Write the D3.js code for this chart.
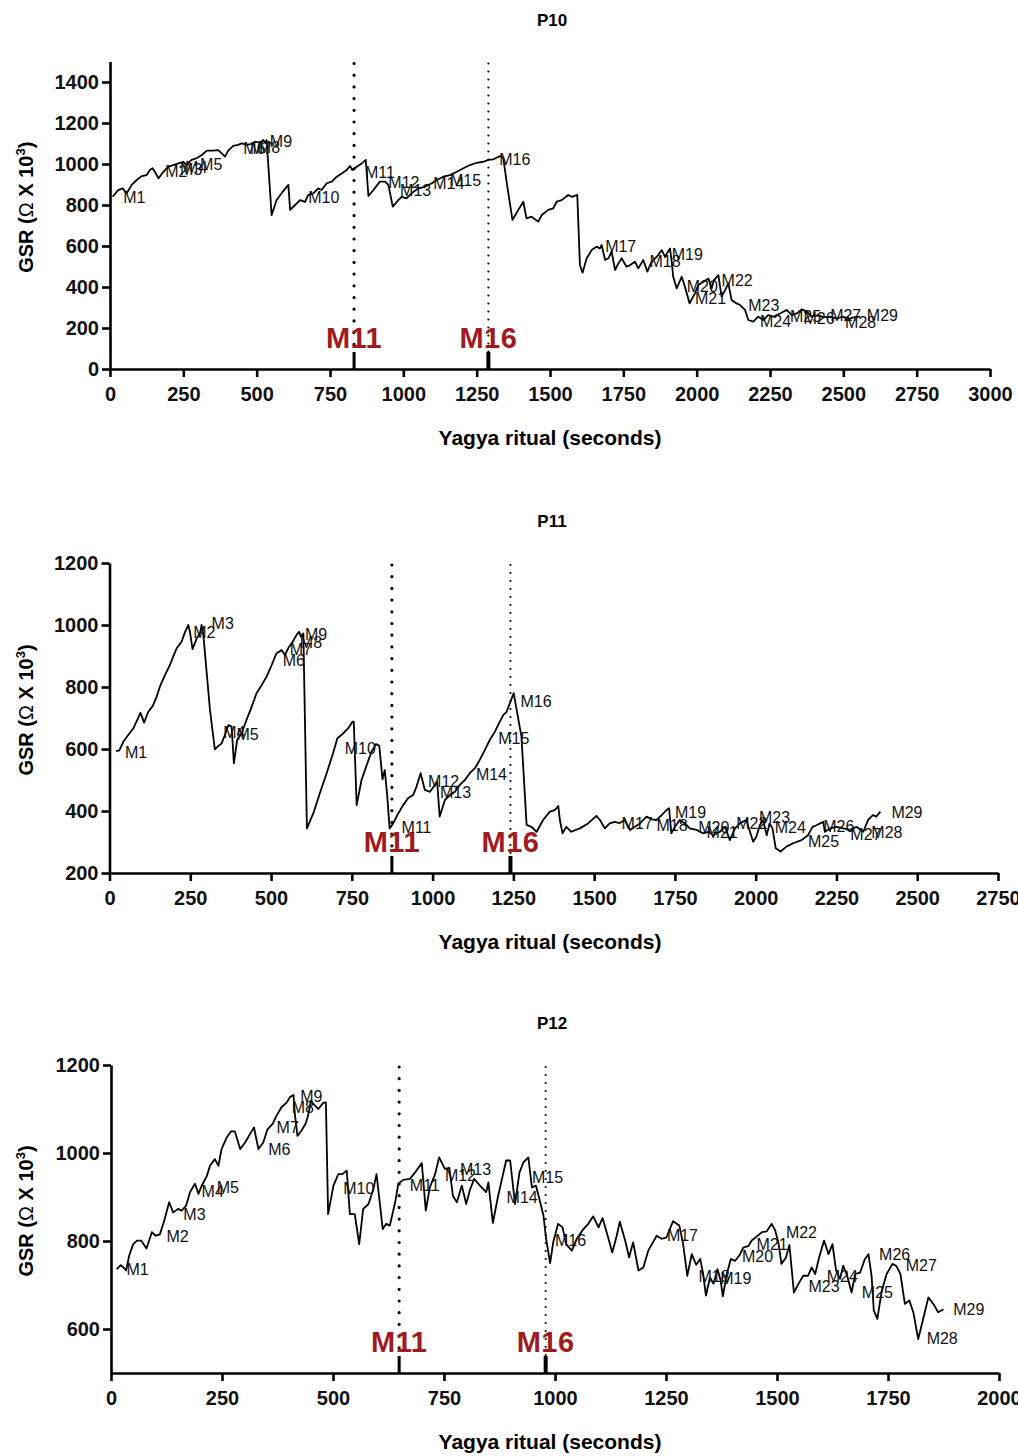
<!DOCTYPE html>
<html>
<head>
<meta charset="utf-8">
<script src="https://cdn.jsdelivr.net/npm/d3@7"></script>
<style>
body { margin: 0; background: #fff; }
svg { font-family: "Liberation Sans", Arial, sans-serif; }
</style>
</head>
<body>
<svg id="chart" width="1018" height="1456"></svg>
<script>
// mantra names
var marks = ["M1","M2","M3","M4","M5","M6","M7","M8","M9","M10","M11","M12","M13","M14","M15",
	"M16","M17","M18","M19","M20","M21","M22","M23","M24","M25","M26","M27","M28","M29"];

// P10
var p10_t = [9,28,43,57,74,91,108,125,136,145,153,165,182,199,216,233,250,261,278,295,313,330,352,369,381,392,403,420,437,449,466,483,494,511,523,531,534,551,568,589,608,614,631,648,665,676,693,710,721,739,756,773,790,807,818,826,841,858,872,881,898,920,938,949,964,983,994,1011,1028,1051,1074,1097,1114,1136,1159,1182,1205,1227,1250,1273,1290,1307,1330,1341,1352,1372,1392,1409,1420,1437,1460,1472,1494,1511,1523,1540,1562,1574,1593,1602,1611,1625,1642,1659,1670,1676,1688,1699,1710,1722,1733,1744,1761,1773,1790,1801,1818,1832,1844,1858,1869,1881,1892,1909,1915,1920,1932,1949,1960,1976,1994,2006,2023,2040,2051,2059,2074,2085,2097,2108,2119,2136,2148,2165,2176,2193,2210,2227,2244,2261,2284,2307,2324,2341,2358,2375,2392,2414,2432,2454,2477,2500,2517,2534,2557];
var p10_gsr = [840,873,881,857,898,922,941,946,971,979,962,930,962,987,995,1003,1010,995,1020,1028,1044,1065,1065,1068,1052,1036,1065,1088,1093,1101,1093,1098,1109,1104,1117,1101,1117,751,824,865,898,776,800,824,815,849,857,881,873,906,914,938,954,971,990,971,987,1003,1020,844,873,914,914,898,792,824,840,832,857,881,889,906,922,938,946,962,979,995,1006,1011,1020,1023,1039,1028,914,727,776,816,735,743,719,751,776,784,816,824,849,840,849,507,470,540,580,597,588,605,532,540,572,483,515,540,499,507,523,491,532,475,515,540,556,580,548,588,523,450,393,450,401,320,369,410,426,442,393,434,458,353,385,418,337,320,312,288,239,231,255,239,263,255,271,288,263,271,291,280,255,263,252,255,247,255,242,252,255];
var p10_lab_t = [45,188,239,256,307,454,477,504,545,676,869,949,989,1102,1159,1327,1688,1839,1915,1966,1994,2085,2176,2216,2318,2364,2455,2506,2580];
var p10_lab_v = [838,967,976,985,1000,1076,1078,1083,1109,840,962,913,873,906,922,1023,600,524,561,405,345,431,312,235,255,247,264,226,264];
var p10_cut = [832, 1290];

// P11
var p11_t = [20,30,43,58,74,86,96,107,120,134,146,156,172,187,197,208,223,234,244,249,257,270,280,285,290,301,311,326,337,347,357,368,378,385,395,409,424,440,455,471,486,502,517,533,543,553,567,579,587,592,600,611,631,651,672,692,705,723,739,752,756,765,780,796,811,825,835,845,852,859,867,878,894,909,924,940,950,963,976,992,1007,1014,1022,1038,1054,1069,1084,1100,1115,1131,1146,1162,1177,1193,1208,1219,1229,1239,1251,1275,1291,1306,1322,1342,1363,1378,1389,1394,1402,1414,1429,1456,1481,1507,1518,1533,1548,1564,1579,1595,1611,1626,1642,1662,1678,1693,1709,1724,1732,1739,1750,1765,1781,1796,1817,1837,1853,1869,1889,1905,1920,1936,1951,1971,1992,2002,2013,2023,2034,2043,2052,2062,2077,2095,2116,2142,2162,2176,2188,2209,2214,2230,2250,2271,2292,2312,2333,2348,2363,2373,2386];
var p11_gsr = [594,595,624,645,667,694,717,685,720,739,769,801,839,871,898,925,946,978,1000,978,922,957,973,1000,973,844,726,599,610,618,645,677,672,554,629,651,694,736,780,806,833,871,909,919,903,925,946,968,978,963,973,344,393,457,522,586,634,650,667,688,688,419,500,548,591,616,610,502,532,457,344,360,393,419,441,452,478,522,468,462,484,495,382,435,452,462,484,500,522,538,565,597,629,656,688,710,720,747,780,640,355,349,333,371,398,403,416,371,328,349,333,344,360,384,371,344,360,365,361,371,339,349,360,382,373,371,387,403,409,328,349,371,360,344,339,328,333,322,333,349,306,344,360,371,301,317,355,371,322,360,344,280,269,285,296,306,322,349,354,365,333,344,349,344,339,349,333,371,387,382,398];
var p11_lab_t = [48,259,316,352,393,536,558,589,605,728,904,986,1023,1134,1203,1272,1585,1693,1750,1822,1848,1940,2010,2059,2162,2209,2293,2358,2420];
var p11_lab_v = [590,977,1006,653,649,885,922,945,971,601,349,495,462,517,636,755,361,355,396,349,332,362,381,349,301,352,326,332,396];
var p11_cut = [874, 1241];

// P12
var p12_t = [13,22,28,34,41,50,59,68,80,92,101,110,119,131,140,151,159,169,178,189,197,204,216,223,234,242,249,261,270,279,291,302,313,322,332,343,352,364,373,384,396,403,411,414,420,429,438,444,450,459,467,478,484,489,501,512,521,531,538,549,559,568,580,591,598,604,612,620,628,640,647,658,673,685,700,709,718,730,739,752,762,770,779,790,800,809,818,831,845,850,860,872,890,899,910,920,929,940,948,957,965,974,980,989,996,1007,1017,1025,1038,1049,1064,1075,1086,1098,1107,1118,1129,1139,1146,1158,1167,1176,1188,1199,1210,1229,1240,1251,1266,1280,1288,1298,1308,1318,1327,1333,1340,1349,1357,1366,1373,1378,1387,1396,1406,1417,1424,1436,1443,1454,1466,1477,1488,1496,1503,1510,1520,1528,1538,1548,1559,1570,1578,1586,1595,1606,1616,1625,1633,1642,1649,1658,1668,1676,1687,1698,1706,1713,1718,1726,1736,1747,1760,1769,1778,1788,1798,1807,1818,1830,1841,1852,1863,1875];
var p12_gsr = [736,745,740,733,767,793,801,801,783,820,812,815,843,888,865,873,869,880,911,930,907,925,948,971,986,971,1009,1036,1049,1049,1009,1024,1043,1058,1009,1024,1053,1066,1085,1104,1115,1127,1132,1089,1039,1051,1066,1085,1119,1108,1100,1114,1115,861,926,952,952,960,861,861,793,873,884,918,952,899,827,839,835,888,930,939,941,956,977,869,922,952,990,964,966,903,888,926,884,918,941,926,911,933,841,903,983,983,884,956,979,990,922,926,895,858,805,750,797,839,831,793,778,805,827,839,856,831,852,814,774,812,844,801,763,797,733,740,778,812,805,808,845,835,797,721,770,746,759,729,676,717,703,736,710,674,725,759,755,770,785,789,801,810,820,822,839,824,797,748,762,791,683,702,721,721,740,725,763,801,770,793,733,714,744,721,683,725,728,759,770,721,642,623,687,725,748,743,725,657,665,638,577,626,672,657,638,645];
var p12_lab_t = [35,125,163,204,238,354,373,407,426,523,673,752,786,891,948,1000,1252,1323,1372,1421,1454,1520,1571,1612,1691,1730,1790,1837,1897];
var p12_lab_v = [735,811,861,912,922,1009,1058,1104,1129,919,926,950,962,899,945,801,812,721,715,766,793,820,698,721,683,770,745,579,644];
var p12_cut = [649, 979];

// axis ticks
var p10_xticks = d3.range(0, 3001, 250);
var p10_yticks = [0,200,400,600,800,1000,1200,1400];
var p11_xticks = d3.range(0, 2751, 250);
var p11_yticks = [200,400,600,800,1000,1200];
var p12_xticks = d3.range(0, 2001, 250);
var p12_yticks = [600,800,1000,1200];

var svg = d3.select("#chart");
svg.append("rect").attr("width", 1018).attr("height", 1456).attr("fill", "#fff");

function draw_panel(p)
{
	var x = d3.scaleLinear().domain(p.xdom).range([p.left, p.right]);
	var y = d3.scaleLinear().domain(p.ydom).range([p.bottom, p.top]);
	var g = svg.append("g");

	// title
	g.append("text")
		.attr("x", 552).attr("y", p.top - 36)
		.attr("text-anchor", "middle")
		.attr("font-size", 17).attr("font-weight", "bold")
		.text(p.title);

	// marker lines (M11 thick dots, M16 fine dots)
	var widths = [3.2, 2.2], dashes = ["0,11.7", "0,8"], bars = [3, 4];
	p.cut.forEach(function(c, i){
		g.append("line")
			.attr("x1", x(c)).attr("x2", x(c))
			.attr("y1", p.top + 2).attr("y2", p.bottom - 16)
			.attr("stroke", "#000").attr("stroke-width", widths[i])
			.attr("stroke-linecap", "round")
			.attr("stroke-dasharray", dashes[i]);
		g.append("line")
			.attr("x1", x(c)).attr("x2", x(c))
			.attr("y1", p.bottom - 17).attr("y2", p.bottom)
			.attr("stroke", "#000").attr("stroke-width", bars[i]);
		g.append("text")
			.attr("x", x(c)).attr("y", p.bottom - 21)
			.attr("text-anchor", "middle")
			.attr("font-size", 29).attr("font-weight", "bold")
			.attr("letter-spacing", 0.5)
			.attr("fill", "#9e1b1e")
			.text(i == 0 ? "M11" : "M16");
	});

	// series
	var pts = p.t.map(function(t, i){ return [t, p.v[i]]; });
	g.append("path")
		.datum(pts)
		.attr("fill", "none").attr("stroke", "#000")
		.attr("stroke-width", 1.8).attr("stroke-linejoin", "round")
		.attr("d", d3.line().x(function(d){ return x(d[0]); }).y(function(d){ return y(d[1]); }));

	// mantra labels
	g.selectAll("text.mlab").data(marks).enter().append("text")
		.attr("class", "mlab")
		.attr("x", function(d, i){ return x(p.lab_t[i]); })
		.attr("y", function(d, i){ return y(p.lab_v[i]); })
		.attr("dy", "0.36em")
		.attr("font-size", 16).attr("fill", "#111")
		.text(function(d){ return d; });

	// axes
	var xa = g.append("g").attr("transform", "translate(0," + p.bottom + ")")
		.call(d3.axisBottom(x).tickValues(p.xticks).tickSize(8).tickSizeOuter(0).tickPadding(10)
			.tickFormat(d3.format("d")));
	var ya = g.append("g").attr("transform", "translate(" + p.left + ",0)")
		.call(d3.axisLeft(y).tickValues(p.yticks).tickSize(8).tickSizeOuter(0).tickPadding(3)
			.tickFormat(d3.format("d")));
	[xa, ya].forEach(function(a){
		a.select(".domain").attr("stroke", "#000").attr("stroke-width", 2.6);
		a.selectAll(".tick line").attr("stroke", "#000").attr("stroke-width", 2.6);
		a.selectAll(".tick text").attr("fill", "#111")
			.attr("font-size", 20).attr("font-weight", "bold")
			.attr("font-family", "'Liberation Sans', Arial, sans-serif");
	});

	// axis titles
	g.append("text")
		.attr("x", 550).attr("y", p.bottom + 76)
		.attr("text-anchor", "middle")
		.attr("font-size", 21).attr("font-weight", "bold")
		.text("Yagya ritual (seconds)");

	var yl = g.append("text")
		.attr("transform", "translate(33," + ((p.top + p.bottom) / 2 - 8) + ") rotate(-90)")
		.attr("text-anchor", "middle")
		.attr("font-size", 20).attr("font-weight", "bold");
	yl.append("tspan").text("GSR (");
	yl.append("tspan").attr("font-weight", "normal").text("\u03A9");
	yl.append("tspan").text(" X 10");
	yl.append("tspan").attr("font-size", 13).attr("dy", -8).text("3");
	yl.append("tspan").attr("dy", 8).text(")");
}

draw_panel({title: "P10", t: p10_t, v: p10_gsr, lab_t: p10_lab_t, lab_v: p10_lab_v, cut: p10_cut,
	xdom: [0, 3000], ydom: [0, 1500], xticks: p10_xticks, yticks: p10_yticks,
	left: 110, right: 990, top: 61.5, bottom: 369});
draw_panel({title: "P11", t: p11_t, v: p11_gsr, lab_t: p11_lab_t, lab_v: p11_lab_v, cut: p11_cut,
	xdom: [0, 2750], ydom: [200, 1200], xticks: p11_xticks, yticks: p11_yticks,
	left: 109.5, right: 998, top: 563, bottom: 873});
draw_panel({title: "P12", t: p12_t, v: p12_gsr, lab_t: p12_lab_t, lab_v: p12_lab_v, cut: p12_cut,
	xdom: [0, 2000], ydom: [500, 1200], xticks: p12_xticks, yticks: p12_yticks,
	left: 111, right: 999, top: 1065, bottom: 1373});
</script>
</body>
</html>
